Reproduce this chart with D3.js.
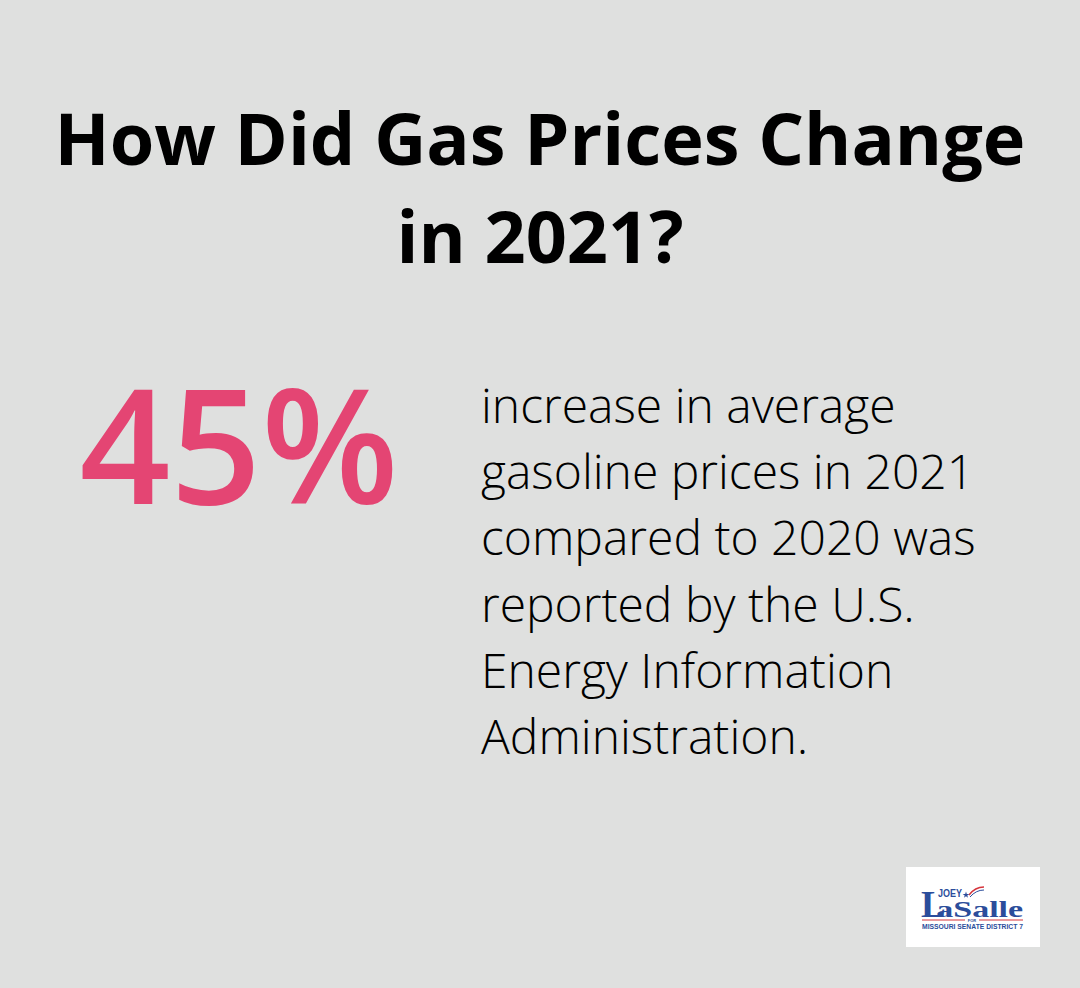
<!DOCTYPE html>
<html>
<head>
<meta charset="utf-8">
<script src="https://cdn.jsdelivr.net/npm/d3@7"></script>
<style>
  html, body { margin: 0; padding: 0; background: #dfe0df; }
  svg { display: block; }
</style>
</head>
<body>
<svg id="chart" width="1080" height="988"></svg>
<script>
// ---- data ----
const titleLines = ["How Did Gas Prices Change", "in 2021?"];
const statValue = ["45%"];
const bodyLines = [
  "increase in average",
  "gasoline prices in 2021",
  "compared to 2020 was",
  "reported by the U.S.",
  "Energy Information",
  "Administration."
];
const logoTop = ["JOEY"];
const logoInitial = ["L"];
const logoName = ["aSalle"];
const logoFor = ["FOR"];
const logoBottom = ["MISSOURI SENATE DISTRICT 7"];

// ---- drawing ----
const W = 1080, H = 988;
const svg = d3.select("#chart");
svg.append("rect").attr("width", W).attr("height", H).attr("fill", "#dfe0df");

// title
const titleY = d3.scalePoint().domain(d3.range(titleLines.length)).range([164.5, 262.7]);
svg.append("g").selectAll("text").data(titleLines).join("text")
  .attr("x", 540).attr("y", (d, i) => titleY(i))
  .attr("text-anchor", "middle")
  .attr("font-family", "'Open Sans', sans-serif")
  .attr("font-weight", 700)
  .attr("font-size", 72)
  .attr("fill", "#000")
  .text(d => d);

// big stat
svg.append("g").selectAll("text").data(statValue).join("text")
  .attr("x", 239).attr("y", 504)
  .attr("text-anchor", "middle")
  .attr("font-family", "'Open Sans', sans-serif")
  .attr("font-weight", 600)
  .attr("font-size", 159)
  .attr("fill", "#e44573")
  .text(d => d);

// body
const bodyY = d3.scalePoint().domain(d3.range(bodyLines.length)).range([423, 754]);
svg.append("g").selectAll("text").data(bodyLines).join("text")
  .attr("x", 481).attr("y", (d, i) => bodyY(i))
  .attr("font-family", "'Open Sans', sans-serif")
  .attr("font-weight", 300)
  .attr("font-size", 48)
  .attr("fill", "#000")
  .text(d => d);

// logo
const logo = svg.append("g");
logo.append("rect").attr("x", 906).attr("y", 867).attr("width", 134).attr("height", 80).attr("fill", "#fff");
const blue = "#2b4d9b", red = "#d6343b";
const nameText = logo.append("text")
  .attr("x", 921).attr("y", 916.5)
  .attr("font-family", "'Liberation Serif', serif").attr("font-weight", 700)
  .attr("fill", blue);
nameText.selectAll("tspan.init").data(logoInitial).join("tspan").attr("class", "init")
  .attr("font-size", 37).text(d => d);
nameText.selectAll("tspan.rest").data(logoName).join("tspan").attr("class", "rest")
  .attr("dx", -9.5).attr("font-size", 23)
  .attr("textLength", 87).attr("lengthAdjust", "spacingAndGlyphs")
  .text(d => d);
logo.selectAll("text.top").data(logoTop).join("text").attr("class", "top")
  .attr("x", 938).attr("y", 897)
  .attr("font-family", "'Liberation Sans', sans-serif").attr("font-weight", 700)
  .attr("font-size", 10).attr("fill", blue)
  .attr("textLength", 24).attr("lengthAdjust", "spacingAndGlyphs")
  .text(d => d);
// flag swoosh + star
logo.append("path").attr("d", "M969,895 Q975,887 984,887").attr("fill", "none").attr("stroke", red).attr("stroke-width", 1.5);
logo.append("path").attr("d", "M970,897 Q976,890 984,890").attr("fill", "none").attr("stroke", blue).attr("stroke-width", 1);
logo.append("path").attr("d", d3.symbol(d3.symbolStar, 14)()).attr("transform", "translate(966,895)").attr("fill", blue);
logo.append("line").attr("x1", 922).attr("x2", 965).attr("y1", 920).attr("y2", 920).attr("stroke", red).attr("stroke-width", 1);
logo.append("line").attr("x1", 979).attr("x2", 1023).attr("y1", 920).attr("y2", 920).attr("stroke", red).attr("stroke-width", 1);
logo.selectAll("text.for").data(logoFor).join("text").attr("class", "for")
  .attr("x", 972).attr("y", 921.5).attr("text-anchor", "middle")
  .attr("font-family", "'Liberation Sans', sans-serif").attr("font-weight", 700)
  .attr("font-size", 4).attr("fill", blue).text(d => d);
logo.selectAll("text.bottom").data(logoBottom).join("text").attr("class", "bottom")
  .attr("x", 922).attr("y", 929)
  .attr("font-family", "'Liberation Sans', sans-serif").attr("font-weight", 700)
  .attr("font-size", 7.5).attr("fill", blue)
  .attr("textLength", 101).attr("lengthAdjust", "spacingAndGlyphs")
  .text(d => d);
</script>
</body>
</html>
